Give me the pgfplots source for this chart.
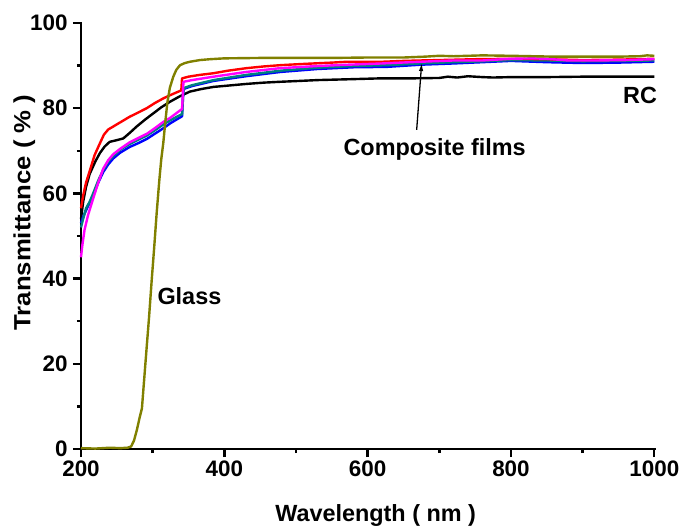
\documentclass[border=0pt]{standalone}
\usepackage{pgfplots}
\pgfplotsset{compat=1.18}
\usepackage{fontspec}
\setmainfont{Liberation Sans}
\usetikzlibrary{arrows.meta}

\definecolor{glassolive}{RGB}{128,128,0}
\definecolor{filmteal}{RGB}{0,128,128}
\definecolor{filmblue}{RGB}{0,0,255}
\definecolor{filmred}{RGB}{255,0,0}
\definecolor{filmmagenta}{RGB}{255,0,255}

\newcommand{\labfont}{\fontsize{23.5}{26}\selectfont\bfseries}
\newcommand{\tickfont}{\fontsize{22.5}{25}\selectfont\bfseries}

\begin{document}
\begin{tikzpicture}
\path[use as bounding box] (-81bp,-80bp) rectangle (605bp,449bp);
\begin{axis}[
  at={(0,0)}, anchor=south west,
  scale only axis, width=573.3bp, height=426bp,
  xmin=200, xmax=1000, ymin=0, ymax=100,
  axis lines=left,
  axis line style={-, line width=2.6bp, line cap=rect},
  xtick={200,400,600,800,1000},
  minor xtick={300,500,700,900},
  ytick={0,20,40,60,80,100},
  minor ytick={10,30,50,70,90},
  tick align=outside,
  major tick length=8bp, minor tick length=4bp,
  every tick/.style={black, line width=2.4bp},
  ticklabel style={font=\tickfont},
  yticklabel style={xshift=-2bp},
  /pgf/number format/assume math mode=true,
  /pgf/number format/1000 sep={},
  xlabel={Wavelength ( nm )},
  ylabel={\scalebox{1.1}[1]{Transmittance ( \% )}},
  xlabel style={font=\labfont, at={([xshift=8bp,yshift=-72bp]axis description cs:0.5,0)}, anchor=base},
  ylabel style={font=\labfont, at={([xshift=-50.5bp]axis description cs:0,0.555)}, anchor=base},
  every axis plot/.append style={line width=2.4bp, line join=round},
  clip=false,
]

% RC film
\addplot[black] coordinates {
(200,54) (203,58) (207,61.5) (212,64.5) (220,67.5) (226.5,69.5) (233,71) (240,72.1)
(250,72.5) (259,72.9) (268,74.2) (277.7,75.7) (290,77.4) (301,78.8) (312,80.2)
(324,81.5) (338,82.8) (352,83.9) (368,84.5) (385,85.0) (405,85.3) (431,85.7)
(455,86.0) (478,86.2) (505,86.4) (530,86.6) (575,86.8) (617,87.0) (660,87.0)
(700,87.1) (712,87.4) (725,87.2) (740,87.5) (760,87.3) (775,87.2) (800,87.3)
(850,87.3) (900,87.4) (950,87.4) (1000,87.4)
};

% composite films
\addplot[filmblue] coordinates {
(200,53) (203,54.5) (207,56) (212,57.8) (217,59.5) (224,62.5) (231,65) (238,66.8)
(245,68.2) (255,69.6) (268,70.9) (280,71.8) (292,72.8) (303,74) (315,75.3)
(325,76.5) (336,77.6) (341,78.1) (343,84.5) (355,85.2) (370,85.8) (385,86.4)
(430,87.5) (478,88.5) (530,89.2) (580,89.6) (627,89.7) (673,90.2) (720,90.5)
(760,90.8) (800,91.1) (850,90.8) (900,90.6) (950,90.7) (1000,90.9)
};
\addplot[filmteal] coordinates {
(200,52) (203,54) (207,56.5) (212,58) (217,60) (224,63) (231,65.5) (238,67.5)
(245,68.8) (255,70.3) (268,71.6) (280,72.6) (292,73.6) (303,74.8) (315,76.2)
(325,77.2) (336,78.2) (341,78.6) (343,84.7) (355,85.4) (370,86) (385,86.6)
(430,87.8) (478,88.8) (530,89.5) (580,89.9) (627,90.1) (673,90.5) (720,90.8)
(760,91.0) (800,91.3) (850,91.2) (900,91) (950,91.1) (1000,91.2)
};
\addplot[filmred] coordinates {
(200,56.5) (203,59.5) (207,62.5) (212.6,65.5) (219,69) (226.5,71.8) (232,73.8)
(238,75) (245,75.7) (255,76.7) (268,78) (280,79) (291.7,80) (303,81.2) (314.8,82.3)
(325,83.1) (336,83.9) (340,84.2) (341,87.0) (350,87.4) (365,87.8) (384.6,88.2)
(405,88.8) (431,89.4) (455,89.8) (478,90.1) (500,90.3) (524,90.5) (550,90.7)
(571,90.9) (600,90.9) (620,90.9) (650,91.1) (673,91.2) (700,91.3) (750,91.5)
(800,91.6) (850,91.5) (900,91.3) (950,91.4) (1000,91.6)
};
\addplot[filmmagenta] coordinates {
(200,45) (202,48) (205,51.5) (210,55) (217,58.8) (224,62.5) (231,65.8) (238,67.8)
(245,69.2) (255,70.5) (268,72) (280,73) (292,74) (303,75.3) (315,76.8) (325,77.8)
(336,79.2) (341,79.8) (343,86.2) (355,86.6) (370,87) (385,87.4) (430,88.5)
(478,89.4) (530,89.9) (571,90.2) (620,90.5) (673,90.9) (720,91.2) (760,91.2)
(800,91.6) (830,91.7) (850,91.6) (880,91.2) (920,91.2) (960,91.3) (1000,91.5)
};

% glass substrate
\addplot[glassolive] coordinates {
(200,0.2) (220,0.1) (240,0.3) (255,0.2) (265,0.3) (270,0.6) (274,2) (278,4.5)
(282,7.5) (285,9.5) (288,16) (291.7,24) (295,31) (298.7,39.7) (302,47) (305.6,55.4)
(309.3,63.1) (312,68) (314.8,71.8) (317.5,76.5) (320.4,81.2) (324,84.8) (328.8,87.4)
(333,89) (338.2,90.1) (345,90.6) (352,90.9) (366,91.3) (380,91.5) (400,91.7)
(450,91.8) (500,91.8) (550,91.8) (600,91.9) (650,91.9) (680,92.1) (700,92.3)
(720,92.2) (760,92.4) (800,92.3) (830,92.2) (860,92.1) (900,92.1) (950,92.1)
(980,92.2) (990,92.4) (1000,92.3)
};

\node[font=\labfont, anchor=west, inner sep=0pt] at (axis cs:306.5,35.9) {Glass};
\node[font=\labfont, anchor=east, inner sep=0pt] at (axis cs:1004,83.1) {RC};
\node[font=\labfont, anchor=base, inner sep=0pt] at (axis cs:693.5,69.0) {Composite films};
\draw[line width=1.3bp, -{Latex[length=8bp,width=4.5bp]}]
  (axis cs:668.4,74.9) -- (axis cs:675.4,90.6);
\end{axis}
\end{tikzpicture}
\end{document}
